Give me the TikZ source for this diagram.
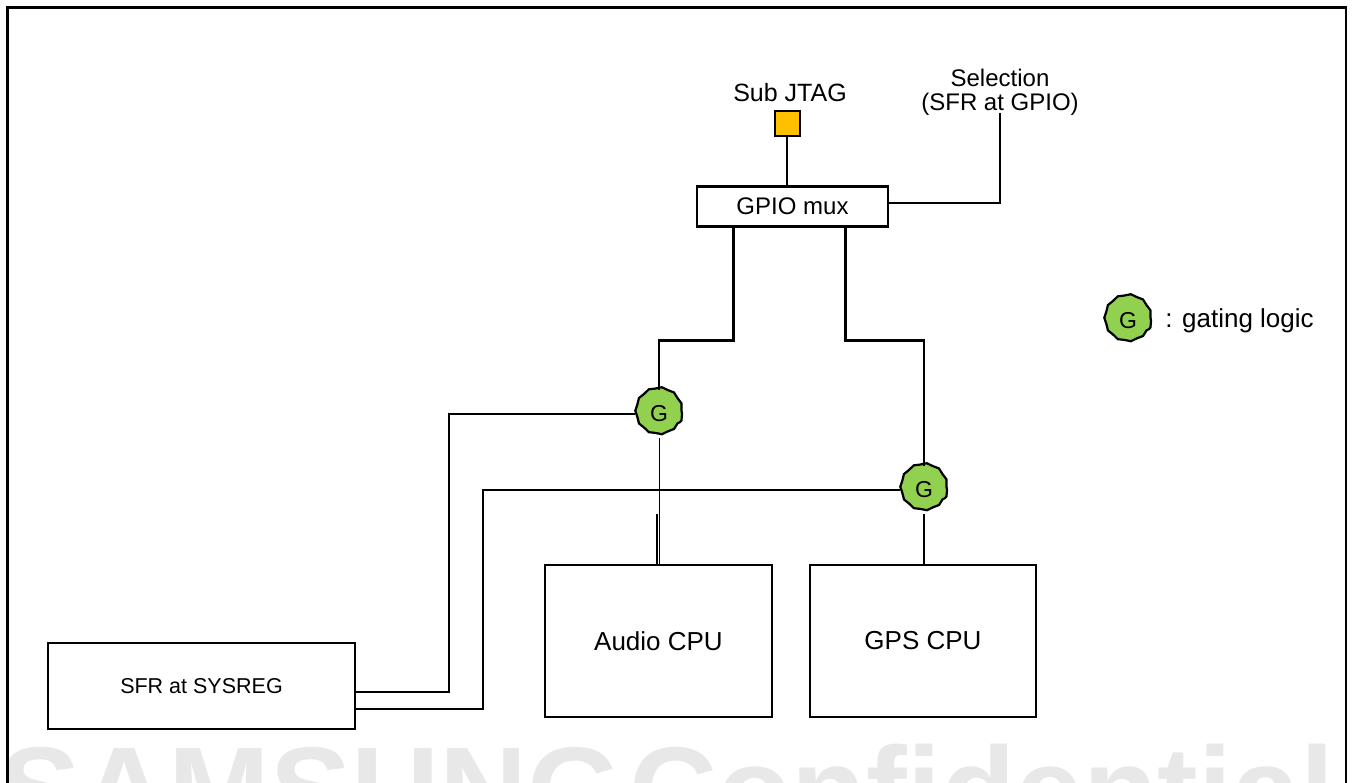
\documentclass[tikz,border=0pt]{standalone}
\usepackage{fontspec}
\setmainfont{Liberation Sans}
\usetikzlibrary{calc,decorations.pathmorphing}
\definecolor{jtagc}{HTML}{FFC000}
\definecolor{gatec}{HTML}{92D050}
\definecolor{wmc}{HTML}{E8E8E8}
\begin{document}
\begin{tikzpicture}[x=1pt,y=-1pt,line width=2.6pt,
  box/.style={draw,line width=2.6pt,fill=white,inner sep=0pt},
  gate/.style={circle,draw,fill=gatec,minimum size=46pt,inner sep=0pt,line width=2.2pt,
    decorate,decoration={snake,amplitude=0.6pt,segment length=13pt},
    font=\fontsize{23}{23}\selectfont},
  lbl/.style={inner sep=0pt,anchor=base},
  wmark/.style={inner sep=0pt,anchor=base west,text=wmc,font=\fontsize{122}{122}\selectfont\bfseries}]
\useasboundingbox[fill=white] (0,0) rectangle (1355,783);
\begin{scope}
\clip (0,0) rectangle (1355,783);
\node[wmark] (wm1) at (-2,832) {SAMSUNG};
\node[wmark] (wm2) at (628,832) {Confidential};
\end{scope}
% frame
\draw (7.5,790) -- (7.5,7.5) -- (1346,7.5) -- (1346,790);
% nodes
\node[box,minimum width=25pt,minimum height=25pt,fill=jtagc,line width=2pt] (jtag) at (787,124) {};
\node[lbl,font=\fontsize{25}{25}\selectfont] (jtaglbl) at (790,102) {Sub JTAG};
\node[box,minimum width=191pt,minimum height=40pt,font=\fontsize{24}{24}\selectfont] (mux) at (792.5,206.5) {GPIO mux};
\node[lbl,font=\fontsize{24}{24}\selectfont] (sel1) at (1000,87) {Selection};
\node[lbl,font=\fontsize{24}{24}\selectfont] (sel2) at (1000,111) {(SFR at GPIO)};
\coordinate (selpt) at (1000,113);
\node[box,minimum width=227pt,minimum height=152pt,font=\fontsize{26}{26}\selectfont] (audio) at (658.5,641) {Audio CPU};
\node[box,minimum width=226pt,minimum height=152pt,font=\fontsize{26}{26}\selectfont] (gps) at (923,641) {GPS CPU};
\node[box,minimum width=307pt,minimum height=86pt,font=\fontsize{21.5}{21.5}\selectfont] (sfr) at (201.5,686) {SFR at SYSREG};
\node[gate] (g1) at (659,414) {G};
\node[gate] (g2) at (924,490) {G};
\node[gate] (gl) at (1128,321) {G};
\node[lbl,anchor=base west,font=\fontsize{26}{26}\selectfont] (gllbl) at (1164,328) {: gating logic};
% connectors
\coordinate (c1) at (449,692);
\coordinate (c2) at (483,709);
\draw (jtag.south) -- (jtag.south |- mux.north);
\draw (selpt) |- ($(mux.east)+(0,-3.5)$);
\draw ($(mux.south west)+(38,0)$) -- ++(0,113) -| (g1.north);
\draw ($(mux.south west)+(150,0)$) -- ++(0,113) -| (g2.north);
\draw (g1.west) -| (c1) -- (sfr.east |- c1);
\draw (g2.west) -| (c2) -- (sfr.east |- c2);
\draw[line width=0.8pt] (g1.south) -- (g1.south |- audio.north);
\draw ($(audio.north)+(-1.5,-50)$) -- ($(audio.north)+(-1.5,0)$);
\draw (g2.south) -- (g2.south |- gps.north);
\end{tikzpicture}
\end{document}
